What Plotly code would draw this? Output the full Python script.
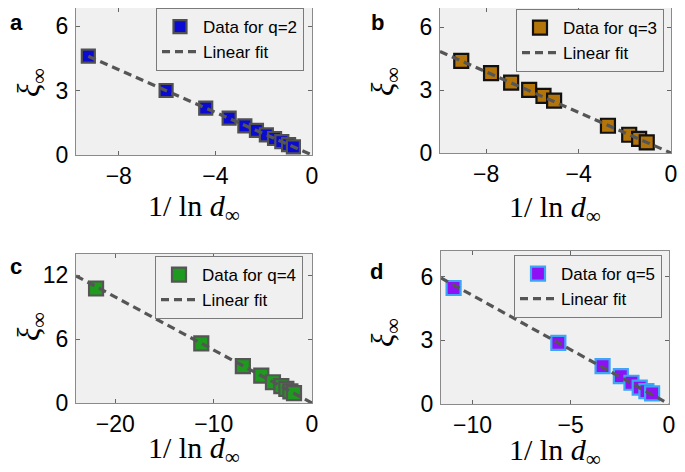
import plotly.graph_objects as go

# panel a, q=2
a_x = [-9.26, -6.04, -4.40, -3.43, -2.78, -2.30, -1.89, -1.55, -1.25, -0.97, -0.77]
a_y = [4.61, 3.01, 2.19, 1.72, 1.36, 1.15, 0.94, 0.77, 0.62, 0.48, 0.38]
a_fit_x = [-9.26, 0]
a_fit_y = [4.61, 0]

# panel b, q=3
b_x = [-9.08, -7.79, -6.92, -6.14, -5.52, -5.06, -2.73, -1.81, -1.38, -1.05]
b_y = [4.40, 3.81, 3.36, 3.01, 2.73, 2.50, 1.30, 0.87, 0.67, 0.51]
b_fit_x = [-10, 0]
b_fit_y = [4.84, 0]

# panel c, q=4
c_x = [-21.96, -11.26, -7.03, -5.16, -3.97, -3.12, -2.61, -2.20, -1.83]
c_y = [10.76, 5.60, 3.46, 2.58, 1.95, 1.58, 1.32, 1.10, 0.92]
c_fit_x = [-24, 0]
c_fit_y = [11.95, 0]

# panel d, q=5
d_x = [-10.96, -5.63, -3.38, -2.45, -1.91, -1.49, -1.15, -0.86]
d_y = [5.46, 2.88, 1.78, 1.31, 1.00, 0.77, 0.61, 0.50]
d_fit_x = [-11.6, 0]
d_fit_y = [5.93, 0]

x_ranges = [[-9.77, 0], [-10, 0], [-24, 0], [-11.6, 0]]
y_ranges = [[0, 6.86], [0, 6.92], [0, 14], [0, 7.2]]
x_ticks = [[-8, -4, 0], [-8, -4, 0], [-20, -10, 0], [-10, -5, 0]]
y_ticks = [[0, 3, 6], [0, 3, 6], [0, 6, 12], [0, 3, 6]]

panels = [
    (a_x, a_y, a_fit_x, a_fit_y, "Data for q=2", "#0a0ad2", "#505050", 13),
    (b_x, b_y, b_fit_x, b_fit_y, "Data for q=3", "#b3740a", "#111111", 14),
    (c_x, c_y, c_fit_x, c_fit_y, "Data for q=4", "#1e9b1e", "#555555", 14),
    (d_x, d_y, d_fit_x, d_fit_y, "Data for q=5", "#9010f5", "#3da5f5", 14),
]

# the page body has an 8px margin, so the figure is drawn 8px in from the window corner
OFF = 8
W, H = 685 - OFF, 472 - OFF


def fx(px):
    return min(1, max(0, (px - OFF) / W))


def fy(py):
    return min(1, max(0, 1 - (py - OFF) / H))


# plot areas in window pixels: left, right, top, bottom
boxes = [(76, 312, 8, 155), (440, 671, 8, 153), (76, 312, 254, 403), (441, 669, 251, 404)]
legend_pos = [(304, 8), (664, 9), (303, 256), (662, 255)]
# panel letters: (text, left, top)
letters = [("a", 8, 8), ("b", 369, 8), ("c", 8, 252), ("d", 368, 257)]
xtitle_pos = [(194, 208), (555, 209), (194, 450), (555, 452)]
ytitle_pos = [(31, 83), (385, 82), (31, 327), (385, 333)]

axis_style = dict(showline=True, linecolor="#8a8a8a", linewidth=1, mirror="ticks", ticks="inside",
                  ticklen=4, tickcolor="#666666", showgrid=False, zeroline=False, automargin=False,
                  tickfont=dict(family="Liberation Sans", size=23, color="black"))

fig = go.Figure()
layout = {}
annotations = []

for i, (px_, py_, fitx, fity, name, fill, edge, msize) in enumerate(panels):
    n = "" if i == 0 else str(i + 1)
    leg = "legend" + n
    fig.add_trace(go.Scatter(x=px_, y=py_, mode="markers", name=name, legend=leg, legendrank=1,
                             xaxis="x" + n, yaxis="y" + n,
                             marker=dict(symbol="square", size=msize, color=fill,
                                         line=dict(color=edge, width=2.2))))
    fig.add_trace(go.Scatter(x=fitx, y=fity, mode="lines", name="Linear fit", legend=leg, legendrank=2,
                             xaxis="x" + n, yaxis="y" + n,
                             line=dict(color="#555555", width=3.2, dash="8px,5px")))

    l, rr, t, b = boxes[i]
    layout["xaxis" + n] = dict(axis_style, domain=[fx(l), fx(rr)], range=x_ranges[i],
                               tickvals=x_ticks[i], anchor="y" + n, ticklabelstandoff=0)
    layout["yaxis" + n] = dict(axis_style, domain=[fy(b), fy(t)], range=y_ranges[i],
                               tickvals=y_ticks[i], anchor="x" + n, ticklabelstandoff=2)

    lx, ly = legend_pos[i]
    layout[leg] = dict(x=fx(lx), y=fy(ly), xanchor="right", yanchor="top",
                       bgcolor="#f0f0f0", bordercolor="#7a7a7a", borderwidth=1,
                       font=dict(family="Liberation Sans", size=17, color="black"),
                       tracegroupgap=0, itemwidth=36)

    txt, tx, ty = letters[i]
    annotations.append(dict(text="<b>%s</b>" % txt, x=fx(tx), y=fy(ty), xref="paper", yref="paper",
                            xanchor="left", yanchor="top", showarrow=False,
                            font=dict(family="Liberation Sans", size=22, color="black")))
    xx, xy = xtitle_pos[i]
    annotations.append(dict(text="1/ ln <i>d</i><sub>∞</sub>", x=fx(xx), y=fy(xy),
                            xref="paper", yref="paper", xanchor="center", yanchor="middle", showarrow=False,
                            font=dict(family="Liberation Serif", size=30, color="black")))
    yx, yy = ytitle_pos[i]
    annotations.append(dict(text="<i>ξ</i><sub>∞</sub>", x=fx(yx), y=fy(yy), textangle=-90,
                            xref="paper", yref="paper", xanchor="center", yanchor="middle", showarrow=False,
                            font=dict(family="Liberation Serif", size=31, color="black")))

fig.update_layout(**layout)
fig.update_layout(width=W, height=H, margin=dict(l=0, r=0, t=0, b=0, autoexpand=False),
                  plot_bgcolor="#f0f0f0", paper_bgcolor="white", showlegend=True,
                  annotations=annotations)

fig.write_html("out.html")
